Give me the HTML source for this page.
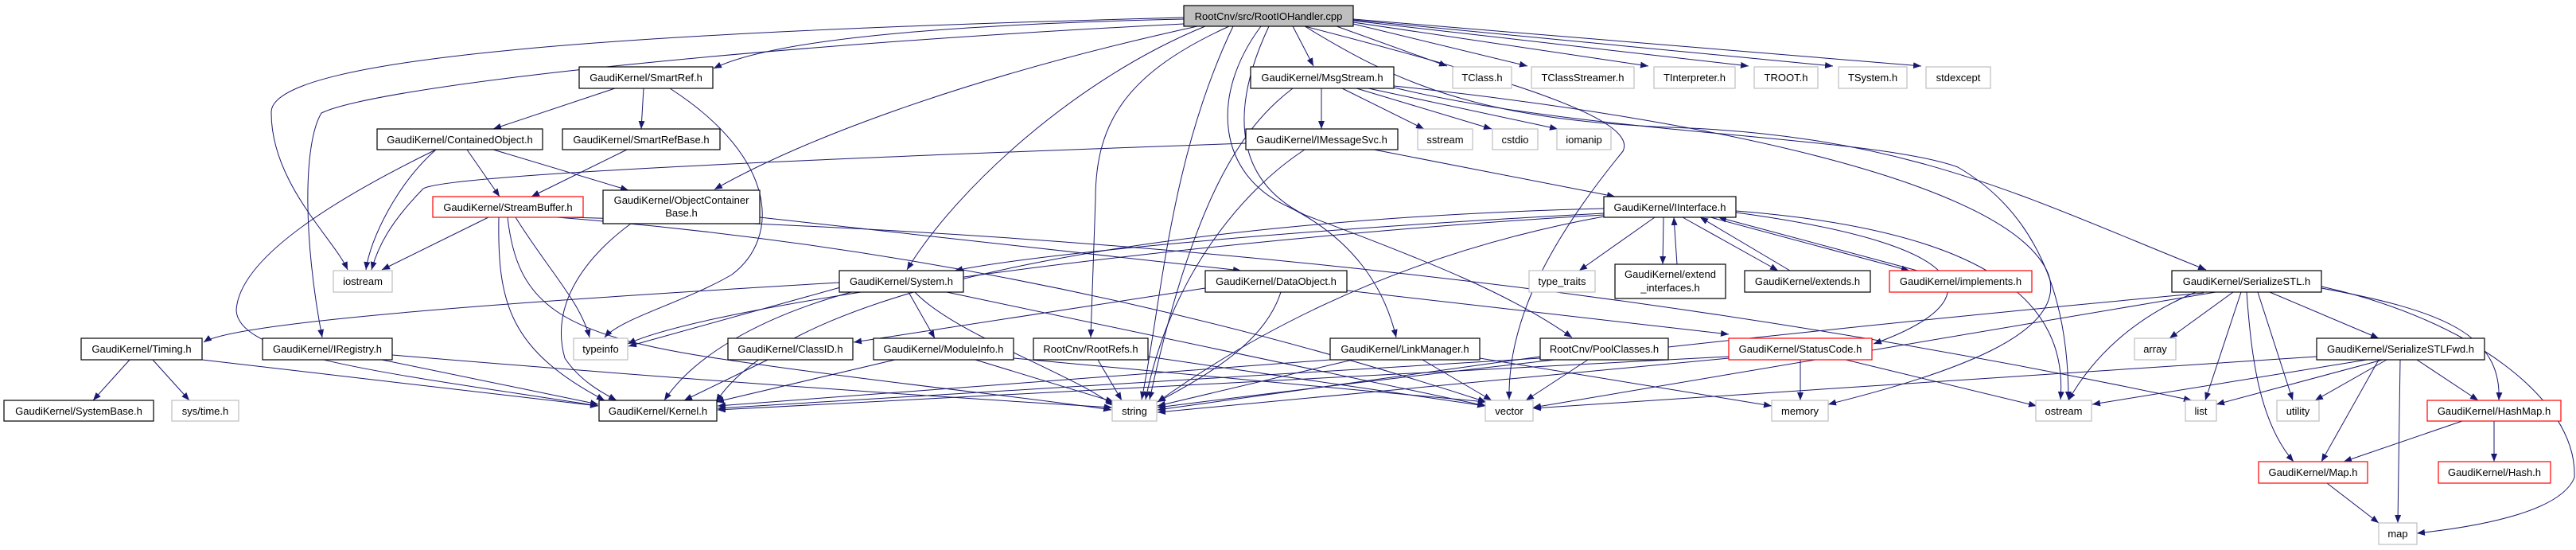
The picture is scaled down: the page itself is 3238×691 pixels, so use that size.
<!DOCTYPE html>
<html><head><meta charset="utf-8"><style>
html,body{margin:0;padding:0;background:#fff;}
svg{display:block;}
text{font-family:"Liberation Sans",sans-serif;font-size:13px;fill:#000;}
.n{fill:#fff;stroke:#000;stroke-width:1.2;}
.g{fill:#fff;stroke:#bfbfbf;stroke-width:1.2;}
.r{fill:#fff;stroke:#ff0000;stroke-width:1.2;}
.e{fill:none;stroke:#191970;stroke-width:1;marker-end:url(#a);}
</style></head><body>
<svg width="3238" height="691" viewBox="0 0 3238 691" xmlns="http://www.w3.org/2000/svg">
<defs><marker id="a" markerWidth="10" markerHeight="8" refX="10" refY="4" orient="auto" markerUnits="userSpaceOnUse"><path d="M0,0 L10,4 L0,8z" fill="#191970"/></marker></defs>
<g>
<!-- root edges -->
<path class="e" d="M1488,24 Q1000,35 897,86"/>
<path class="e" d="M1488,22 C800,40 345,70 341,140 C340,230 420,300 437,339"/>
<path class="e" d="M1488,30 C900,60 470,110 404,142 C381,180 381,300 405,424"/>
<path class="e" d="M1505,33 C1200,100 1000,180 898,238"/>
<path class="e" d="M1515,33 C1350,100 1200,240 1140,339"/>
<path class="e" d="M1545,33 C1420,90 1377,150 1377,250 L1371,424"/>
<path class="e" d="M1585,33 C1520,120 1530,220 1620,260 C1700,300 1740,360 1755,424"/>
<path class="e" d="M1595,33 C1540,150 1560,230 1640,270 C1800,330 1900,370 1976,424"/>
<path class="e" d="M1625,33 L1651,83"/>
<path class="e" d="M1680,33 L1819,83"/>
<path class="e" d="M1701,30 L1920,83"/>
<path class="e" d="M1701,28 L2072,83"/>
<path class="e" d="M1701,26 L2198,83"/>
<path class="e" d="M1701,25 L2304,83"/>
<path class="e" d="M1701,24 L2415,83"/>
<path class="e" d="M1640,33 C1750,100 1850,150 2100,160 C2400,170 2550,250 2773,339"/>
<path class="e" d="M1550,33 C1470,200 1460,380 1435,502"/>
<path class="e" d="M1640,33 C1900,100 2060,150 2040,190 C1950,300 1895,400 1897,502"/>
<!-- SmartRef -->
<path class="e" d="M773,111 L620,162"/>
<path class="e" d="M809,111 L806,162"/>
<path class="e" d="M842,111 C980,200 980,300 920,345 C860,380 780,400 760,424"/>
<!-- ContainedObject -->
<path class="e" d="M587,188 L628,247"/>
<path class="e" d="M620,188 L790,239"/>
<path class="e" d="M548,188 C500,230 465,300 460,339"/>
<path class="e" d="M548,188 C400,260 300,330 297,390 C300,450 500,470 752,510"/>
<path class="e" d="M1566,180 C1000,200 560,220 532,237 C490,280 475,310 467,339"/>
<path class="e" d="M788,188 L668,247"/>
<!-- StreamBuffer -->
<path class="e" d="M614,273 L480,339"/>
<path class="e" d="M648,273 C690,340 730,380 741,424"/>
<path class="e" d="M627,273 C625,380 640,440 760,503"/>
<path class="e" d="M638,273 C650,380 700,420 900,450 C1100,480 1300,500 1397,515"/>
<path class="e" d="M700,273 Q1300,320 1868,505"/>
<path class="e" d="M710,273 Q1800,300 2755,503"/>
<!-- ObjectContainerBase -->
<path class="e" d="M955,273 L1560,340"/>
<path class="e" d="M793,281 C740,320 690,380 710,450 C730,480 760,495 775,503"/>
<!-- MsgStream -->
<path class="e" d="M1661,111 L1661,162"/>
<path class="e" d="M1687,111 L1790,162"/>
<path class="e" d="M1705,111 L1875,162"/>
<path class="e" d="M1720,111 L1958,162"/>
<path class="e" d="M1625,111 C1560,160 1500,250 1445,502"/>
<path class="e" d="M1752,110 C2000,170 2350,170 2461,210 C2530,250 2600,330 2600,502"/>
<path class="e" d="M1752,108 C2150,150 2530,230 2575,345 C2600,420 2450,470 2298,508"/>
<!-- IMessageSvc -->
<path class="e" d="M1727,188 L2030,247"/>
<path class="e" d="M1640,188 C1560,240 1470,350 1440,502"/>
<!-- IInterface -->
<path class="e" d="M2080,273 L1985,340"/>
<path class="e" d="M2091,273 L2090,332"/>
<path class="e" d="M2108,332 L2104,273"/>
<path class="e" d="M2115,273 L2235,340"/>
<path class="e" d="M2250,340 L2137,273"/>
<path class="e" d="M2150,273 L2400,340"/>
<path class="e" d="M2410,340 L2160,273"/>
<path class="e" d="M2016,262 C1500,275 1000,350 900,505"/>
<path class="e" d="M2016,268 C1600,290 1300,320 1200,340"/>
<path class="e" d="M2016,270 C1500,300 900,380 789,432"/>
<path class="e" d="M2182,267 C2500,310 2500,380 2355,432"/>
<path class="e" d="M2182,265 C2500,290 2600,380 2590,502"/>
<path class="e" d="M2016,272 Q1700,330 1455,505"/>
<!-- System -->
<path class="e" d="M1055,355 C800,370 300,400 256,430"/>
<path class="e" d="M1060,360 L790,435"/>
<path class="e" d="M1070,367 C950,400 870,450 835,503"/>
<path class="e" d="M1150,367 C1200,420 1350,470 1400,510"/>
<path class="e" d="M1190,367 L1868,510"/>
<path class="e" d="M1142,367 L1175,425"/>
<!-- DataObject -->
<path class="e" d="M1515,362 L1073,430"/>
<path class="e" d="M1693,365 L2173,420"/>
<path class="e" d="M1610,367 C1590,430 1520,470 1455,505"/>
<!-- lower rows -->
<path class="e" d="M163,452 L117,503"/>
<path class="e" d="M192,452 L238,503"/>
<path class="e" d="M254,452 L752,510"/>
<path class="e" d="M480,452 L752,508"/>
<path class="e" d="M493,446 C900,480 1200,500 1398,512"/>
<path class="e" d="M965,452 L860,503"/>
<path class="e" d="M1125,452 L900,505"/>
<path class="e" d="M1226,452 L1400,505"/>
<path class="e" d="M1274,450 L1868,505"/>
<path class="e" d="M1380,452 L1410,503"/>
<path class="e" d="M1443,448 L1867,510"/>
<path class="e" d="M1672,452 L902,510"/>
<path class="e" d="M1788,452 L1875,503"/>
<path class="e" d="M1700,452 L1455,510"/>
<path class="e" d="M1860,450 L2227,510"/>
<path class="e" d="M1996,452 L1918,503"/>
<path class="e" d="M1936,450 L902,513"/>
<path class="e" d="M1936,448 L1455,515"/>
<path class="e" d="M2263,452 L2263,503"/>
<path class="e" d="M2320,452 L2560,510"/>
<path class="e" d="M2173,448 L902,515"/>
<path class="e" d="M2173,450 L1455,518"/>
<!-- SerializeSTL -->
<path class="e" d="M2807,367 L2727,425"/>
<path class="e" d="M2853,367 L2990,425"/>
<path class="e" d="M2760,367 C2680,400 2630,450 2600,503"/>
<path class="e" d="M2817,367 L2772,503"/>
<path class="e" d="M2838,367 L2882,503"/>
<path class="e" d="M2785,367 L1927,512"/>
<path class="e" d="M2770,368 Q2100,430 1455,512"/>
<path class="e" d="M2824,367 C2830,450 2840,530 2883,580"/>
<path class="e" d="M2918,362 C3070,390 3145,420 3141,503"/>
<path class="e" d="M2918,360 C3100,400 3240,500 3236,600 C3220,640 3130,660 3038,670"/>
<!-- SerializeSTLFwd -->
<path class="e" d="M2975,452 L2630,508"/>
<path class="e" d="M2995,452 L2786,508"/>
<path class="e" d="M3000,452 L2910,503"/>
<path class="e" d="M2990,452 L2918,580"/>
<path class="e" d="M3017,452 L3014,657"/>
<path class="e" d="M3038,452 L3115,503"/>
<path class="e" d="M2912,448 L1927,513"/>
<path class="e" d="M3095,529 L2946,580"/>
<path class="e" d="M3135,529 L3135,580"/>
<path class="e" d="M2925,607 L2990,657"/>
</g>
<g>
<rect x="1488" y="7" width="213" height="26" fill="#bfbfbf" stroke="#000" stroke-width="1.2"/>
<text x="1594.5" y="25" text-anchor="middle">RootCnv/src/RootIOHandler.cpp</text>

<rect class="n" x="728" y="84" width="168" height="27"/><text x="812" y="102" text-anchor="middle">GaudiKernel/SmartRef.h</text>
<rect class="n" x="1572" y="84" width="180" height="27"/><text x="1662" y="102" text-anchor="middle">GaudiKernel/MsgStream.h</text>
<rect class="g" x="1826" y="84" width="74" height="27"/><text x="1863" y="102" text-anchor="middle">TClass.h</text>
<rect class="g" x="1925" y="84" width="129" height="27"/><text x="1989.5" y="102" text-anchor="middle">TClassStreamer.h</text>
<rect class="g" x="2079" y="84" width="102" height="27"/><text x="2130" y="102" text-anchor="middle">TInterpreter.h</text>
<rect class="g" x="2205" y="84" width="80" height="27"/><text x="2245" y="102" text-anchor="middle">TROOT.h</text>
<rect class="g" x="2311" y="84" width="86" height="27"/><text x="2354" y="102" text-anchor="middle">TSystem.h</text>
<rect class="g" x="2421" y="84" width="81" height="27"/><text x="2461.5" y="102" text-anchor="middle">stdexcept</text>

<rect class="n" x="474" y="162" width="208" height="26"/><text x="578" y="180" text-anchor="middle">GaudiKernel/ContainedObject.h</text>
<rect class="n" x="707" y="162" width="198" height="26"/><text x="806" y="180" text-anchor="middle">GaudiKernel/SmartRefBase.h</text>
<rect class="n" x="1566" y="162" width="191" height="26"/><text x="1661.5" y="180" text-anchor="middle">GaudiKernel/IMessageSvc.h</text>
<rect class="g" x="1782" y="162" width="69" height="26"/><text x="1816.5" y="180" text-anchor="middle">sstream</text>
<rect class="g" x="1876" y="162" width="57" height="26"/><text x="1904.5" y="180" text-anchor="middle">cstdio</text>
<rect class="g" x="1957" y="162" width="68" height="26"/><text x="1991" y="180" text-anchor="middle">iomanip</text>

<rect class="n" x="758" y="239" width="197" height="42"/><text x="856.5" y="256" text-anchor="middle">GaudiKernel/ObjectContainer</text><text x="856.5" y="272" text-anchor="middle">Base.h</text>
<rect class="r" x="544" y="247" width="189" height="26"/><text x="638.5" y="265" text-anchor="middle">GaudiKernel/StreamBuffer.h</text>
<rect class="n" x="2016" y="247" width="166" height="26"/><text x="2099" y="265" text-anchor="middle">GaudiKernel/IInterface.h</text>

<rect class="g" x="419" y="340" width="74" height="27"/><text x="456" y="358" text-anchor="middle">iostream</text>
<rect class="n" x="1055" y="340" width="156" height="27"/><text x="1133" y="358" text-anchor="middle">GaudiKernel/System.h</text>
<rect class="n" x="1515" y="340" width="178" height="27"/><text x="1604" y="358" text-anchor="middle">GaudiKernel/DataObject.h</text>
<rect class="g" x="1922" y="340" width="83" height="27"/><text x="1963.5" y="358" text-anchor="middle">type_traits</text>
<rect class="n" x="2030" y="332" width="139" height="43"/><text x="2099.5" y="349" text-anchor="middle">GaudiKernel/extend</text><text x="2099.5" y="366" text-anchor="middle">_interfaces.h</text>
<rect class="n" x="2193" y="340" width="158" height="27"/><text x="2272" y="358" text-anchor="middle">GaudiKernel/extends.h</text>
<rect class="r" x="2375" y="340" width="179" height="27"/><text x="2464.5" y="358" text-anchor="middle">GaudiKernel/implements.h</text>
<rect class="n" x="2730" y="340" width="188" height="27"/><text x="2824" y="358" text-anchor="middle">GaudiKernel/SerializeSTL.h</text>

<rect class="n" x="102" y="425" width="152" height="27"/><text x="178" y="443" text-anchor="middle">GaudiKernel/Timing.h</text>
<rect class="n" x="330" y="425" width="163" height="27"/><text x="411.5" y="443" text-anchor="middle">GaudiKernel/IRegistry.h</text>
<rect class="g" x="721" y="425" width="68" height="27"/><text x="755" y="443" text-anchor="middle">typeinfo</text>
<rect class="n" x="915" y="425" width="157" height="27"/><text x="993.5" y="443" text-anchor="middle">GaudiKernel/ClassID.h</text>
<rect class="n" x="1098" y="425" width="176" height="27"/><text x="1186" y="443" text-anchor="middle">GaudiKernel/ModuleInfo.h</text>
<rect class="n" x="1299" y="425" width="144" height="27"/><text x="1371" y="443" text-anchor="middle">RootCnv/RootRefs.h</text>
<rect class="n" x="1672" y="425" width="188" height="27"/><text x="1766" y="443" text-anchor="middle">GaudiKernel/LinkManager.h</text>
<rect class="n" x="1936" y="425" width="161" height="27"/><text x="2016.5" y="443" text-anchor="middle">RootCnv/PoolClasses.h</text>
<rect class="r" x="2173" y="425" width="180" height="27"/><text x="2263" y="443" text-anchor="middle">GaudiKernel/StatusCode.h</text>
<rect class="g" x="2683" y="425" width="52" height="27"/><text x="2709" y="443" text-anchor="middle">array</text>
<rect class="n" x="2912" y="425" width="211" height="27"/><text x="3017.5" y="443" text-anchor="middle">GaudiKernel/SerializeSTLFwd.h</text>

<rect class="n" x="5" y="503" width="188" height="26"/><text x="99" y="521" text-anchor="middle">GaudiKernel/SystemBase.h</text>
<rect class="g" x="216" y="503" width="84" height="26"/><text x="258" y="521" text-anchor="middle">sys/time.h</text>
<rect class="n" x="753" y="503" width="148" height="26"/><text x="827" y="521" text-anchor="middle">GaudiKernel/Kernel.h</text>
<rect class="g" x="1398" y="503" width="56" height="26"/><text x="1426" y="521" text-anchor="middle">string</text>
<rect class="g" x="1867" y="503" width="60" height="26"/><text x="1897" y="521" text-anchor="middle">vector</text>
<rect class="g" x="2227" y="503" width="71" height="26"/><text x="2262.5" y="521" text-anchor="middle">memory</text>
<rect class="g" x="2559" y="503" width="70" height="26"/><text x="2594" y="521" text-anchor="middle">ostream</text>
<rect class="g" x="2747" y="503" width="39" height="26"/><text x="2766.5" y="521" text-anchor="middle">list</text>
<rect class="g" x="2862" y="503" width="53" height="26"/><text x="2888.5" y="521" text-anchor="middle">utility</text>
<rect class="r" x="3051" y="503" width="168" height="26"/><text x="3135" y="521" text-anchor="middle">GaudiKernel/HashMap.h</text>

<rect class="r" x="2839" y="580" width="137" height="27"/><text x="2907.5" y="598" text-anchor="middle">GaudiKernel/Map.h</text>
<rect class="r" x="3065" y="580" width="141" height="27"/><text x="3135.5" y="598" text-anchor="middle">GaudiKernel/Hash.h</text>
<rect class="g" x="2990" y="657" width="48" height="27"/><text x="3014" y="675" text-anchor="middle">map</text>
</g>
</svg>
</body></html>
